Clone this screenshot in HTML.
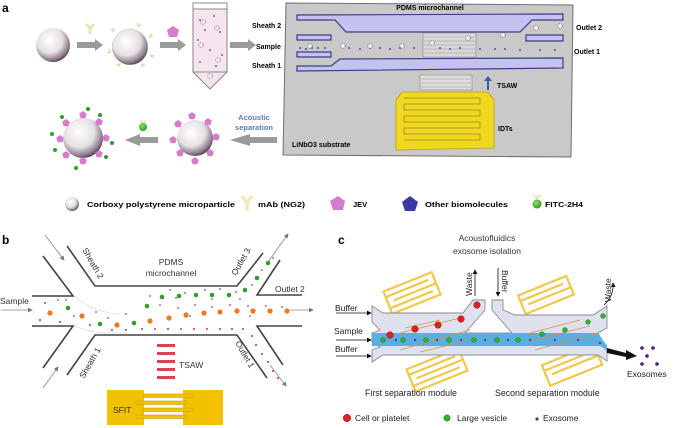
<!DOCTYPE html>
<html><head><meta charset="utf-8"><style>
html,body{margin:0;padding:0;background:#fff}
svg{display:block}
text{font-family:"Liberation Sans",Arial,sans-serif}
</style></head><body>
<svg width="676" height="428" viewBox="0 0 676 428" xmlns="http://www.w3.org/2000/svg">
<defs>
<radialGradient id="sph" cx="0.4" cy="0.35" r="0.7">
<stop offset="0" stop-color="#ffffff"/><stop offset="0.55" stop-color="#e4e0e4"/><stop offset="0.85" stop-color="#8a7888"/><stop offset="1" stop-color="#3a2a3a"/>
</radialGradient>
<radialGradient id="grn" cx="0.4" cy="0.35" r="0.7"><stop offset="0" stop-color="#8fe06a"/><stop offset="1" stop-color="#1f9a1f"/></radialGradient>
<marker id="ah" markerWidth="6" markerHeight="6" refX="5" refY="3" orient="auto"><path d="M0,0 L6,3 L0,6 z" fill="#777"/></marker>
<marker id="ahk" markerWidth="6" markerHeight="6" refX="5" refY="3" orient="auto"><path d="M0,0 L6,3 L0,6 z" fill="#111"/></marker>
<g id="pent"><polygon points="0,-4 3.8,-1.2 2.4,3.3 -2.4,3.3 -3.8,-1.2" fill="#d77ccc"/></g>
<g id="star"><circle r="2.2" fill="#fff" stroke="#666" stroke-width="0.8" stroke-dasharray="1,0.8"/></g>
<g id="gar"><polygon points="0,-3 18,-3 18,-6 26,0 18,6 18,3 0,3" fill="#9a9a9a"/></g>
</defs>

<!-- ===== Panel a ===== -->
<text x="2" y="12" font-size="12" font-weight="bold">a</text>
<circle cx="53" cy="45" r="17" fill="url(#sph)"/>
<use href="#gar" x="77" y="45"/>
<path d="M90,34 L90,28 M90,28 L86,24 M90,28 L94,24" stroke="#ece6b6" stroke-width="3" fill="none"/>
<circle cx="130" cy="47" r="18" fill="url(#sph)" stroke="#ccc" stroke-width="0.5"/>
<g stroke="#e0d8a0" stroke-width="1.3" fill="none">
<path d="M114,32 l-3,-3 m3,3 l-1,-4"/><path d="M138,27 l0,-4 m0,4 l3,-3"/><path d="M149,37 l3,-3 m-3,3 l4,0"/>
<path d="M150,55 l4,1 m-4,-1 l3,3"/><path d="M141,64 l2,3 m-2,-3 l4,1"/><path d="M120,64 l-2,3 m2,-3 l-4,1"/><path d="M111,52 l-4,1 m4,-1 l-3,-3"/>
</g>
<use href="#gar" x="160" y="45"/>
<polygon points="173,26 179,30 177,37 169,37 167,30" fill="#d77ccc"/>
<rect x="193" y="3" width="34" height="69" fill="#f6e4ee" stroke="#888" stroke-width="1"/>
<rect x="193" y="3" width="34" height="6" fill="#fff" stroke="#888" stroke-width="1"/>
<polygon points="193,72 227,72 210,89" fill="#f6e4ee" stroke="#888" stroke-width="1"/>
<g fill="#4040a0">
<circle cx="200" cy="20" r="0.9"/><circle cx="214" cy="16" r="0.9"/><circle cx="220" cy="32" r="0.9"/><circle cx="198" cy="40" r="0.9"/><circle cx="210" cy="50" r="0.9"/><circle cx="222" cy="55" r="0.9"/><circle cx="200" cy="62" r="0.9"/><circle cx="216" cy="66" r="0.9"/><circle cx="205" cy="30" r="0.9"/>
</g>
<use href="#star" x="203" y="22"/><use href="#star" x="217" y="28"/><use href="#star" x="201" y="45"/><use href="#star" x="218" y="60"/><use href="#star" x="210" y="76"/>
<use href="#gar" x="230" y="45"/>
<!-- bottom row -->
<polygon points="277,137 250,137 250,134 230,140 250,146 250,143 277,143" fill="#9a9a9a"/>
<text x="254" y="120" font-size="7.5" font-weight="bold" fill="#5a7cc0" text-anchor="middle">Acoustic</text>
<text x="254" y="130" font-size="7.5" font-weight="bold" fill="#5a7cc0" text-anchor="middle">separation</text>
<circle cx="195" cy="138" r="18" fill="url(#sph)"/>
<g><use href="#pent" x="192" y="116"/><use href="#pent" x="208" y="122"/><use href="#pent" x="216" y="137"/><use href="#pent" x="210" y="153"/><use href="#pent" x="195" y="161"/><use href="#pent" x="180" y="153"/><use href="#pent" x="173" y="140"/><use href="#pent" x="178" y="124"/></g>
<polygon points="158,137 140,137 140,134 125,140 140,146 140,143 158,143" fill="#9a9a9a"/>
<path d="M143,124 l0,-3 m0,3 l-3,-4 m3,4 l3,-4" stroke="#e8e2b0" stroke-width="1.3" fill="none"/>
<circle cx="143" cy="127" r="4" fill="url(#grn)"/>
<circle cx="83" cy="138" r="20" fill="url(#sph)"/>
<g><use href="#pent" x="83" y="115"/><use href="#pent" x="99" y="122"/><use href="#pent" x="106" y="138"/><use href="#pent" x="99" y="154"/><use href="#pent" x="83" y="161"/><use href="#pent" x="66" y="155"/><use href="#pent" x="60" y="139"/><use href="#pent" x="66" y="123"/></g>
<g fill="#2ca02c"><circle cx="88" cy="109" r="2"/><circle cx="100" cy="115" r="2"/><circle cx="112" cy="143" r="2"/><circle cx="106" cy="157" r="2"/><circle cx="76" cy="168" r="2"/><circle cx="55" cy="150" r="2"/><circle cx="52" cy="134" r="2"/><circle cx="62" cy="117" r="2"/></g>
<!-- substrate -->
<polygon points="286,3 573,5 571,157 283,155" fill="#c9c9c9" stroke="#6f6f6f" stroke-width="1"/>
<text x="430" y="10" font-size="7" font-weight="bold" text-anchor="middle">PDMS microchannel</text>
<polygon points="297,15 563,14 563,20 532,20 520,32 346,32 335,20 297,20" fill="#c4c2ee" stroke="#3d3d8a" stroke-width="1.2"/>
<polygon points="297,35 331,35 331,40 297,40" fill="#c4c2ee" stroke="#3d3d8a" stroke-width="1.2"/>
<polygon points="526,35 563,35 563,41 526,41" fill="#c4c2ee" stroke="#3d3d8a" stroke-width="1.2"/>
<polygon points="297,52 331,52 331,57 297,57" fill="#c4c2ee" stroke="#3d3d8a" stroke-width="1.2"/>
<polygon points="297,66 331,66 340,59 563,58 563,68 297,71" fill="#c4c2ee" stroke="#3d3d8a" stroke-width="1.2"/>
<rect x="423" y="33" width="53" height="24" fill="#d8d8d8" stroke="#888" stroke-width="0.6"/>
<g stroke="#999" stroke-width="0.6"><line x1="424" y1="37" x2="475" y2="37"/><line x1="424" y1="41" x2="475" y2="41"/><line x1="424" y1="45" x2="475" y2="45"/><line x1="424" y1="49" x2="475" y2="49"/><line x1="424" y1="53" x2="475" y2="53"/></g>
<rect x="420" y="75" width="52" height="15" fill="#ddd" stroke="#888" stroke-width="0.6"/>
<g stroke="#999" stroke-width="0.6"><line x1="421" y1="79" x2="471" y2="79"/><line x1="421" y1="83" x2="471" y2="83"/><line x1="421" y1="87" x2="471" y2="87"/></g>
<g fill="#2a2a90">
<circle cx="300" cy="48" r="0.9"/><circle cx="306" cy="49" r="0.9"/><circle cx="312" cy="48" r="0.9"/><circle cx="325" cy="48" r="0.9"/><circle cx="349" cy="48" r="0.9"/><circle cx="360" cy="49" r="0.9"/><circle cx="380" cy="48" r="0.9"/><circle cx="390" cy="49" r="0.9"/><circle cx="414" cy="48" r="0.9"/><circle cx="440" cy="48" r="0.9"/><circle cx="460" cy="48" r="0.9"/><circle cx="480" cy="49" r="0.9"/><circle cx="495" cy="49" r="0.9"/><circle cx="505" cy="49" r="0.9"/><circle cx="520" cy="50" r="0.9"/><circle cx="540" cy="50" r="0.9"/><circle cx="555" cy="50" r="0.9"/><circle cx="318" cy="48" r="0.9"/><circle cx="370" cy="48" r="0.9"/><circle cx="400" cy="48" r="0.9"/><circle cx="450" cy="49" r="0.9"/>
</g>
<use href="#star" x="310" y="46"/><use href="#star" x="343" y="46"/><use href="#star" x="370" y="46"/><use href="#star" x="402" y="46"/><use href="#star" x="432" y="43"/><use href="#star" x="468" y="38"/><use href="#star" x="503" y="35"/><use href="#star" x="536" y="28"/><use href="#star" x="560" y="26"/>
<text x="252" y="28" font-size="7" font-weight="bold">Sheath 2</text>
<text x="256" y="49" font-size="7" font-weight="bold">Sample</text>
<text x="252" y="68" font-size="7" font-weight="bold">Sheath 1</text>
<text x="576" y="30" font-size="7" font-weight="bold">Outlet 2</text>
<text x="574" y="54" font-size="7" font-weight="bold">Outlet 1</text>
<path d="M487,90 L487,81 L484,81 L488,76 L492,81 L489,81 L489,90 z" fill="#3a5aa8"/>
<text x="497" y="88" font-size="7" font-weight="bold">TSAW</text>
<polygon points="402,92 488,92 494,100 494,148 396,150 396,100" fill="#f0d820" stroke="#b8a010" stroke-width="0.8"/>
<g fill="none" stroke="#9a8a20" stroke-width="0.8">
<path d="M404,98 H480 V104 H404 V110 H480 V116 H404 V122 H480 V128 H404 V134 H480 V140 H404"/>
</g>
<text x="498" y="131" font-size="7" font-weight="bold">IDTs</text>
<text x="292" y="147" font-size="7" font-weight="bold">LiNbO3 substrate</text>
<!-- legend -->
<circle cx="72" cy="204" r="7" fill="url(#sph)"/>
<text x="87" y="207" font-size="7.5" font-weight="bold" textLength="148" lengthAdjust="spacingAndGlyphs">Corboxy polystyrene microparticle</text>
<path d="M247,211 L247,203 M247,203 L242,196 M247,203 L252,196" stroke="#f2eab8" stroke-width="3.5" fill="none"/>
<text x="258" y="207" font-size="7.5" font-weight="bold" textLength="47" lengthAdjust="spacingAndGlyphs">mAb (NG2)</text>
<polygon points="338,196 345,201 343,210 333,210 330,201" fill="#d77ccc"/>
<text x="353" y="207" font-size="7.5" font-weight="bold">JEV</text>
<polygon points="410,196 418,202 415,211 405,211 402,202" fill="#3a3aa0"/>
<text x="425" y="207" font-size="7.5" font-weight="bold" textLength="83" lengthAdjust="spacingAndGlyphs">Other biomolecules</text>
<path d="M537,199 l0,-3 m0,3 l-4,-5 m4,5 l4,-5" stroke="#e8e2b0" stroke-width="1.4" fill="none"/>
<circle cx="537" cy="204" r="4.5" fill="url(#grn)"/>
<text x="545" y="207" font-size="7.5" font-weight="bold" textLength="38" lengthAdjust="spacingAndGlyphs">FITC-2H4</text>

<!-- ===== Panel b ===== -->
<text x="2" y="244" font-size="12" font-weight="bold">b</text>
<g stroke="#444" stroke-width="1.6" fill="none">
<path d="M32,296 L73,296 L43,256"/>
<path d="M67,246 L95,286 L237,286 L263,253"/>
<path d="M280,260 L257,295 L302,295"/>
<path d="M302,326 L257,326 L283,365"/>
<path d="M267,378 L237,335 L95,335 L67,375"/>
<path d="M43,368 L73,326 L32,326"/>
</g>
<g stroke="#888" stroke-width="0.8" fill="none">
<line x1="45" y1="235" x2="64" y2="260" marker-end="url(#ah)"/>
<line x1="43" y1="388" x2="58" y2="367" marker-end="url(#ah)"/>
<line x1="268" y1="262" x2="288" y2="234" marker-end="url(#ah)"/>
<line x1="270" y1="365" x2="286" y2="386" marker-end="url(#ah)"/>
<line x1="1" y1="310" x2="32" y2="310" marker-end="url(#ah)"/>
<line x1="290" y1="310" x2="313" y2="310" marker-end="url(#ah)"/>
</g>
<path d="M75,296 Q90,312 120,314 M75,326 Q90,333 110,333 L128,333" stroke="#aaa" stroke-width="0.6" stroke-dasharray="1,1" fill="none"/>
<text x="0" y="304" font-size="8.5" fill="#333">Sample</text>
<text x="171" y="265" font-size="8.5" fill="#333" text-anchor="middle">PDMS</text>
<text x="171" y="276" font-size="8.5" fill="#333" text-anchor="middle">microchannel</text>
<text x="275" y="292" font-size="8.5" fill="#333">Outlet 2</text>
<text font-size="8.5" fill="#333" transform="translate(236,276) rotate(-60)">Outlet 3</text>
<text font-size="8.5" fill="#333" transform="translate(235,343) rotate(60)">Outlet 1</text>
<text font-size="8.5" fill="#333" transform="translate(82,250) rotate(60)">Sheath 2</text>
<text font-size="8.5" fill="#333" transform="translate(84,379) rotate(-60)">Sheath 1</text>
<!-- particles b -->
<g fill="#f07a1a"><circle cx="50" cy="313" r="2.6"/><circle cx="82" cy="316" r="2.6"/><circle cx="117" cy="325" r="2.6"/><circle cx="150" cy="321" r="2.6"/><circle cx="169" cy="318" r="2.6"/><circle cx="186" cy="315" r="2.6"/><circle cx="204" cy="313" r="2.6"/><circle cx="220" cy="312" r="2.6"/><circle cx="237" cy="311" r="2.6"/><circle cx="253" cy="311" r="2.6"/><circle cx="270" cy="311" r="2.6"/><circle cx="287" cy="311" r="2.6"/></g>
<g fill="#2ca02c"><circle cx="68" cy="308" r="2.3"/><circle cx="100" cy="324" r="2.3"/><circle cx="134" cy="323" r="2.3"/><circle cx="147" cy="306" r="2.3"/><circle cx="162" cy="297" r="2.3"/><circle cx="179" cy="296" r="2.3"/><circle cx="196" cy="295" r="2.3"/><circle cx="212" cy="295" r="2.3"/><circle cx="229" cy="295" r="2.3"/><circle cx="245" cy="290" r="2.3"/><circle cx="257" cy="278" r="2.3"/><circle cx="268" cy="263" r="2.3"/></g>
<g fill="#d53030"><circle cx="40" cy="320" r="1"/><circle cx="45" cy="303" r="1"/><circle cx="60" cy="322" r="1"/><circle cx="90" cy="325" r="1"/><circle cx="112" cy="330" r="1"/><circle cx="126" cy="330" r="1"/><circle cx="142" cy="329" r="1"/><circle cx="155" cy="329" r="1"/><circle cx="168" cy="329" r="1"/><circle cx="181" cy="329" r="1"/><circle cx="194" cy="329" r="1"/><circle cx="207" cy="329" r="1"/><circle cx="220" cy="329" r="1"/><circle cx="232" cy="329" r="1"/><circle cx="243" cy="329" r="1"/><circle cx="252" cy="336" r="1"/><circle cx="256" cy="345" r="1"/><circle cx="262" cy="354" r="1"/><circle cx="268" cy="362" r="1"/><circle cx="273" cy="371" r="1"/><circle cx="278" cy="378" r="1"/></g>
<g fill="#8040c0"><circle cx="58" cy="300" r="0.9"/><circle cx="74" cy="316" r="0.9"/><circle cx="96" cy="312" r="0.9"/><circle cx="108" cy="318" r="0.9"/><circle cx="126" cy="314" r="0.9"/><circle cx="160" cy="305" r="0.9"/><circle cx="178" cy="308" r="0.9"/><circle cx="195" cy="305" r="0.9"/><circle cx="212" cy="307" r="0.9"/><circle cx="230" cy="305" r="0.9"/><circle cx="248" cy="306" r="0.9"/><circle cx="266" cy="306" r="0.9"/><circle cx="282" cy="307" r="0.9"/><circle cx="190" cy="316" r="0.9"/><circle cx="250" cy="316" r="0.9"/></g>
<g fill="#3070c0"><circle cx="66" cy="300" r="0.9"/><circle cx="150" cy="296" r="0.9"/><circle cx="170" cy="290" r="0.9"/><circle cx="185" cy="293" r="0.9"/><circle cx="205" cy="290" r="0.9"/><circle cx="220" cy="289" r="0.9"/><circle cx="236" cy="292" r="0.9"/><circle cx="252" cy="285" r="0.9"/><circle cx="262" cy="270" r="0.9"/><circle cx="273" cy="258" r="0.9"/><circle cx="176" cy="298" r="0.9"/><circle cx="212" cy="299" r="0.9"/><circle cx="240" cy="299" r="0.9"/></g>
<!-- TSAW b -->
<g fill="#e04050"><rect x="157" y="344" width="18" height="3"/><rect x="157" y="352" width="18" height="3"/><rect x="157" y="360" width="18" height="3"/><rect x="157" y="368" width="18" height="3"/><rect x="157" y="376" width="18" height="3"/></g>
<text x="179" y="368" font-size="8.5" fill="#333">TSAW</text>
<rect x="107" y="390" width="37" height="35" fill="#f2c200"/>
<rect x="183" y="390" width="40" height="35" fill="#f2c200"/>
<g fill="#f2c200" stroke="#c09000" stroke-width="0.5">
<rect x="143" y="394" width="50" height="3.5"/><rect x="136" y="401" width="50" height="3.5"/><rect x="143" y="408" width="50" height="3.5"/><rect x="136" y="415" width="50" height="3.5"/>
</g>
<text x="113" y="413" font-size="8.5" fill="#333">SFIT</text>

<!-- ===== Panel c ===== -->
<text x="338" y="244" font-size="12" font-weight="bold">c</text>
<text x="487" y="241" font-size="8.5" fill="#333" text-anchor="middle">Acoustofluidics</text>
<text x="487" y="254" font-size="8.5" fill="#333" text-anchor="middle">exosome isolation</text>
<!-- IDTs c -->
<g fill="none" stroke="#f2c84a" stroke-width="2.2">
<g transform="translate(412,293) rotate(-22)"><rect x="-26" y="-12" width="52" height="24"/><path d="M-26,-6 H20 M-20,0 H26 M-26,6 H20"/></g>
<g transform="translate(437,370) rotate(-22)"><rect x="-28" y="-12" width="56" height="24"/><path d="M-28,-6 H22 M-22,0 H28 M-28,6 H22"/></g>
<g transform="translate(546,295) rotate(-22)"><rect x="-26" y="-10" width="52" height="20"/><path d="M-26,-4 H20 M-20,2 H26"/></g>
<g transform="translate(572,365) rotate(-22)"><rect x="-28" y="-11" width="56" height="22"/><path d="M-28,-5 H22 M-22,1 H28"/></g>
</g>
<!-- channel -->
<path d="M372,306 L383,313 L463,313 L473,300 L485,300 L485,310 L465,333 L512,333 L492,310 L492,300 L503,300 L503,310 L515,315 L593,315 L607,306 L607,328 L598,333 L607,352 L607,361 L598,355 L383,355 L372,362 L372,350 L380,347 L372,342 L372,333 L380,330 L372,322 Z" fill="#dfe2ee" stroke="#8a8a96" stroke-width="0.9"/>
<polygon points="372,333 598,333 607,346 607,350 600,346 372,346" fill="#5aaee0"/>
<g stroke="#d8904a" stroke-width="0.7"><line x1="400" y1="333" x2="460" y2="318"/><line x1="400" y1="350" x2="470" y2="330"/><line x1="405" y1="328" x2="440" y2="320"/><line x1="530" y1="333" x2="580" y2="320"/><line x1="530" y1="341" x2="590" y2="326"/><line x1="535" y1="350" x2="595" y2="334"/><line x1="420" y1="352" x2="470" y2="340"/></g>
<g fill="#dd2020" stroke="#800" stroke-width="0.4"><circle cx="390" cy="335" r="3.3"/><circle cx="415" cy="329" r="3.3"/><circle cx="438" cy="325" r="3.3"/><circle cx="461" cy="319" r="3.3"/><circle cx="477" cy="305" r="3.3"/></g>
<g fill="#2ab52a" stroke="#0a5a0a" stroke-width="0.4"><circle cx="383" cy="340" r="2.4"/><circle cx="403" cy="340" r="2.4"/><circle cx="426" cy="340" r="2.4"/><circle cx="449" cy="340" r="2.4"/><circle cx="474" cy="340" r="2.4"/><circle cx="497" cy="340" r="2.4"/><circle cx="518" cy="340" r="2.4"/><circle cx="542" cy="334" r="2.4"/><circle cx="565" cy="330" r="2.4"/><circle cx="588" cy="322" r="2.4"/><circle cx="603" cy="316" r="2.4"/></g>
<g fill="#5a2a9a"><circle cx="396" cy="340" r="1.1"/><circle cx="415" cy="340" r="1.1"/><circle cx="437" cy="340" r="1.1"/><circle cx="461" cy="340" r="1.1"/><circle cx="485" cy="340" r="1.1"/><circle cx="508" cy="340" r="1.1"/><circle cx="530" cy="340" r="1.1"/><circle cx="555" cy="340" r="1.1"/><circle cx="578" cy="340" r="1.1"/><circle cx="600" cy="343" r="1.1"/></g>
<g stroke="#111" stroke-width="0.8" fill="none">
<line x1="336" y1="313" x2="371" y2="313" marker-end="url(#ahk)"/>
<line x1="336" y1="340" x2="371" y2="340" marker-end="url(#ahk)"/>
<line x1="336" y1="356" x2="371" y2="356" marker-end="url(#ahk)"/>
<line x1="475" y1="296" x2="475" y2="270" marker-end="url(#ahk)"/>
<line x1="498" y1="268" x2="498" y2="296" marker-end="url(#ahk)"/>
<path d="M604,305 Q614,296 613,283" marker-end="url(#ahk)"/>
</g>
<text x="335" y="311" font-size="8.5" fill="#222">Buffer</text>
<text x="334" y="334" font-size="8.5" fill="#222">Sample</text>
<text x="335" y="352" font-size="8.5" fill="#222">Buffer</text>
<text font-size="8.5" fill="#222" transform="translate(472,296) rotate(-90)">Waste</text>
<text font-size="8.5" fill="#222" transform="translate(502,270) rotate(90)">Buffer</text>
<text font-size="8.5" fill="#222" transform="translate(611,302) rotate(-90)">Waste</text>
<polygon points="607,348 626,353 626,350 637,356 626,360 626,357 607,353" fill="#111"/>
<g fill="#4a1a7a"><circle cx="642" cy="348" r="1.8"/><circle cx="653" cy="348" r="1.8"/><circle cx="647" cy="356" r="1.8"/><circle cx="642" cy="364" r="1.8"/><circle cx="657" cy="364" r="1.8"/></g>
<text x="627" y="377" font-size="8.5" fill="#222">Exosomes</text>
<text x="365" y="396" font-size="8.8" fill="#222">First separation module</text>
<text x="495" y="396" font-size="8.8" fill="#222">Second separation module</text>
<circle cx="347" cy="418" r="3.8" fill="#dd2020" stroke="#800" stroke-width="0.4"/>
<text x="355" y="421" font-size="8.5" fill="#222">Cell or platelet</text>
<circle cx="447" cy="418" r="3.2" fill="#2ab52a" stroke="#0a5a0a" stroke-width="0.4"/>
<text x="457" y="421" font-size="8.5" fill="#222">Large vesicle</text>
<circle cx="537" cy="419" r="1.6" fill="#5a2a9a"/>
<text x="543" y="421" font-size="8.5" fill="#222">Exosome</text>
</svg>
</body></html>
